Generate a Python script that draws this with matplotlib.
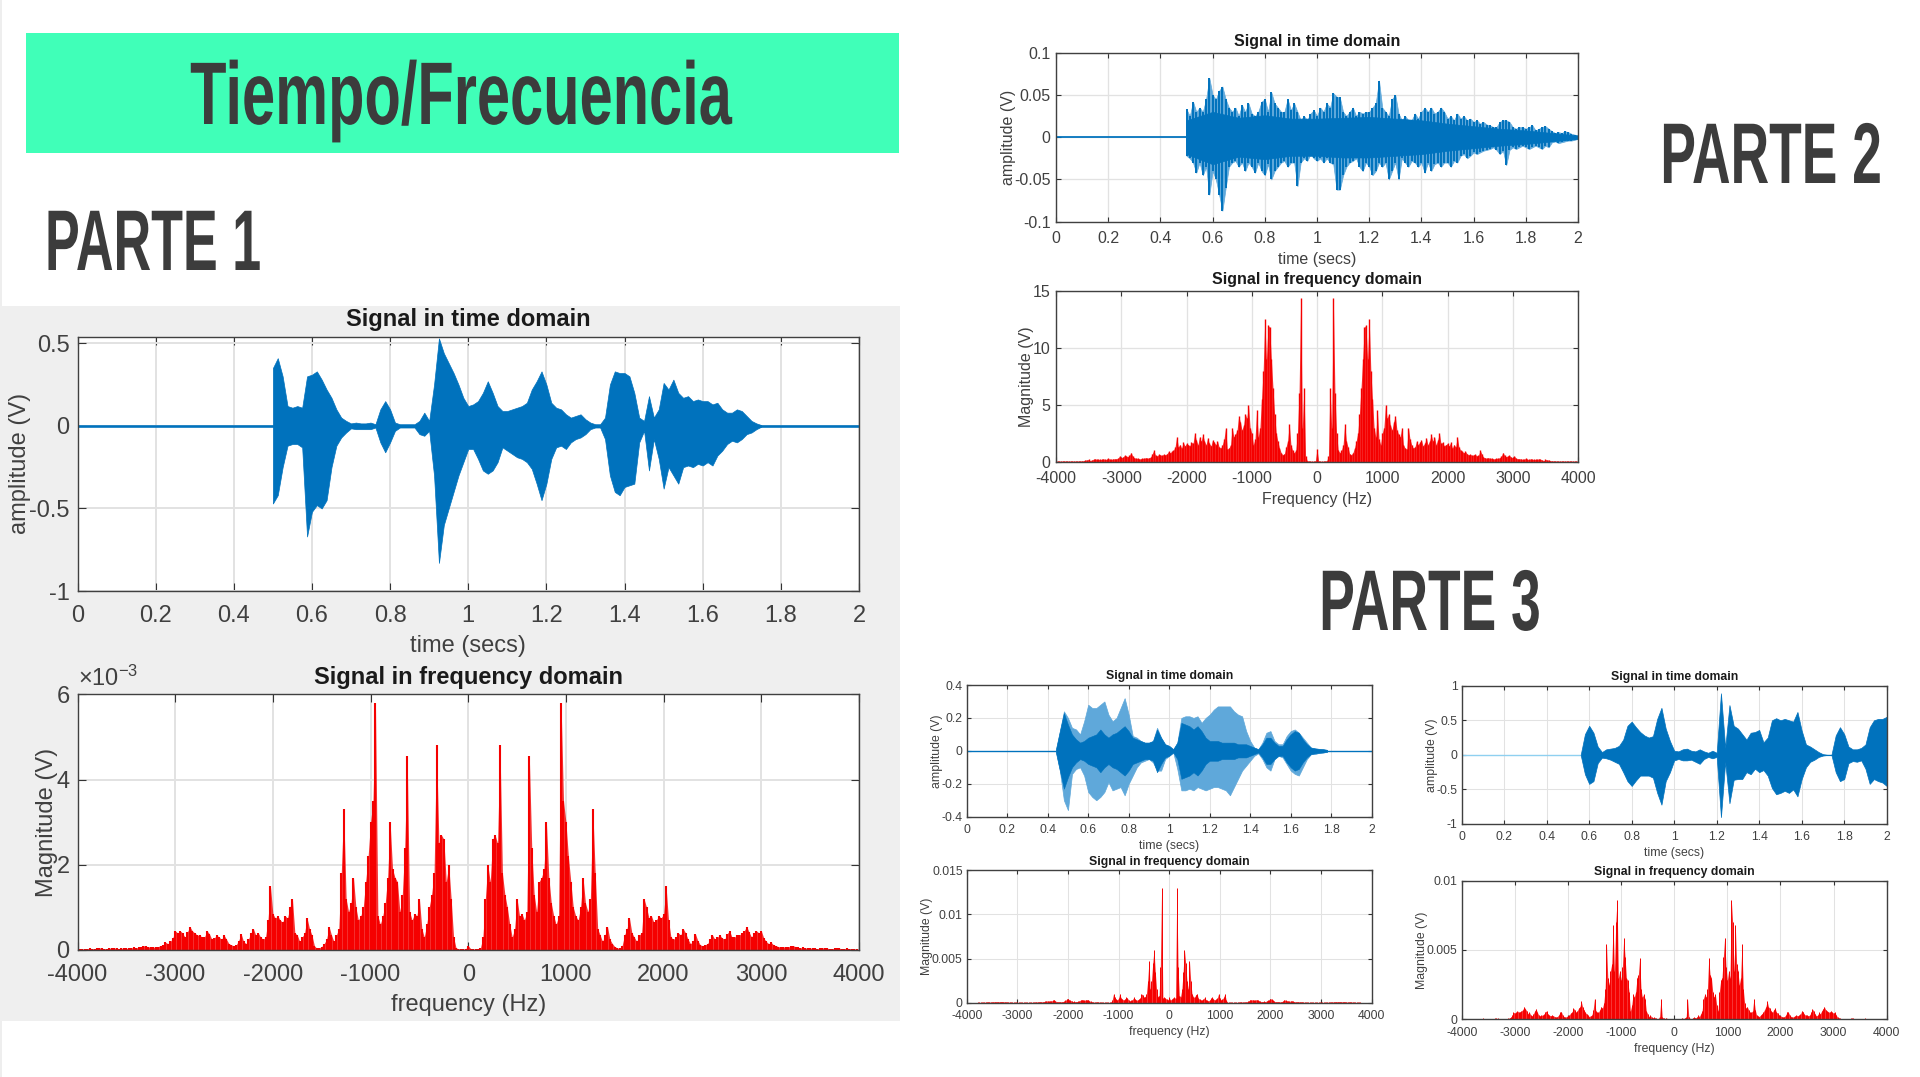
"""
Tiempo/Frecuencia slide: speech signals in the time and frequency domain
"""

import numpy as np
import matplotlib
matplotlib.use('Agg')
import matplotlib.pyplot as plt
from matplotlib.patches import Rectangle
from matplotlib.patheffects import AbstractPathEffect
from matplotlib.transforms import Affine2D

plt.rcParams['font.family'] = ['Liberation Sans', 'DejaVu Sans']
plt.rcParams['mathtext.default'] = 'regular'

# ============================================================================
# DATA: time envelopes (V)
# ============================================================================

# Parte 1, from 0.5 s, one value every 0.0125 s
p1_time_start = 0.5
p1_time_step = 0.0125
p1_upper = [
    .35, .41, .30, .12, .11, .12, .11, .30,
    .31, .33, .28, .22, .17, .10, .05, .03,
    .015, .02, .015, .015, .02, .01, .10, .15,
    .10, .02, .01, .01, .01, .01, .03, .08,
    .03, .25, .53, .44, .38, .32, .25, .17,
    .12, .13, .15, .20, .27, .20, .12, .09,
    .09, .10, .11, .12, .14, .22, .27, .33,
    .25, .14, .11, .10, .07, .05, .06, .07,
    .04, .02, .01, .01, .05, .25, .33, .32,
    .32, .30, .20, .05, .03, .18, .05, .10,
    .26, .22, .28, .20, .17, .18, .15, .16,
    .15, .15, .13, .14, .10, .08, .08, .10,
    .09, .06, .03, .015, .005,
]
p1_lower = [
    -.47, -.42, -.25, -.12, -.11, -.11, -.13, -.67,
    -.52, -.48, -.50, -.45, -.25, -.12, -.07, -.04,
    -.015, -.02, -.02, -.02, -.02, -.01, -.10, -.16,
    -.10, -.03, -.01, -.01, -.01, -.01, -.05, -.06,
    -.03, -.30, -.83, -.60, -.50, -.40, -.30, -.22,
    -.14, -.14, -.20, -.27, -.29, -.27, -.22, -.13,
    -.15, -.17, -.19, -.20, -.22, -.26, -.35, -.45,
    -.35, -.20, -.13, -.12, -.14, -.10, -.08, -.07,
    -.05, -.02, -.01, -.01, -.08, -.30, -.40, -.42,
    -.37, -.36, -.35, -.10, -.03, -.27, -.08, -.20,
    -.38, -.25, -.30, -.35, -.25, -.24, -.25, -.23,
    -.24, -.22, -.24, -.18, -.15, -.11, -.09, -.10,
    -.08, -.05, -.04, -.02, -.005,
]

# Parte 2, from 0.5 s, one value every 0.0125 s
p2_time_start = 0.5
p2_time_step = 0.0125
p2_upper = [
    .033, .025, .042, .03, .035, .03, .045, .07, .05, .045,
    .055, .06, .045, .035, .03, .035, .025, .038, .03, .04,
    .028, .025, .03, .042, .045, .03, .053, .04, .035, .03,
    .03, .045, .032, .04, .03, .02, .025, .02, .028, .032,
    .025, .035, .03, .04, .035, .052, .048, .047, .03, .025,
    .03, .035, .025, .03, .028, .03, .03, .035, .04, .067,
    .035, .03, .025, .045, .05, .028, .02, .025, .02, .02,
    .028, .022, .03, .035, .03, .035, .028, .03, .035, .03,
    .022, .025, .02, .028, .022, .025, .02, .022, .018, .02,
    .016, .018, .015, .014, .012, .012, .018, .02, .02, .018,
    .012, .01, .012, .012, .01, .012, .014, .008, .01, .012,
    .013, .01, .007, .005, .006, .005, .007, .006, .004, .003,
    .002,
]
p2_lower = [
    -.022, -.025, -.03, -.042, -.03, -.045, -.035, -.068, -.04, -.05,
    -.068, -.087, -.06, -.035, -.03, -.028, -.035, -.03, -.04, -.03,
    -.035, -.042, -.03, -.04, -.045, -.032, -.05, -.04, -.035, -.03,
    -.028, -.035, -.03, -.03, -.058, -.03, -.025, -.028, -.02, -.025,
    -.028, -.025, -.03, -.025, -.03, -.032, -.062, -.062, -.045, -.035,
    -.03, -.028, -.025, -.035, -.04, -.03, -.035, -.045, -.04, -.03,
    -.035, -.03, -.05, -.04, -.03, -.05, -.025, -.03, -.035, -.028,
    -.03, -.035, -.03, -.042, -.03, -.04, -.032, -.03, -.035, -.03,
    -.03, -.035, -.028, -.03, -.022, -.02, -.025, -.022, -.018, -.02,
    -.018, -.016, -.015, -.014, -.012, -.015, -.02, -.016, -.033, -.015,
    -.012, -.014, -.012, -.01, -.012, -.014, -.012, -.01, -.012, -.014,
    -.01, -.012, -.006, -.005, -.007, -.006, -.005, -.004, -.004, -.003,
    -.002,
]
# solid middle of the Parte 2 signal, one value every 0.1 s from 0.5 s
p2_core_step = 0.1
p2_core_upper = [.02, .03, .023, .026, .022, .022, .023, .024, .022, .02, .016, .013, .01, .008, .005, .002]
p2_core_lower = [-.02, -.032, -.023, -.026, -.022, -.022, -.024, -.024, -.022, -.02, -.016, -.013, -.01, -.008, -.005, -.002]

# Parte 3 left, from 0.44 s, one value every 0.02 s, with a darker core
p3a_time_start = 0.44
p3a_time_step = 0.02
p3a_upper = [
    .005, .12, .24, .20, .14, .13, .10, .18, .28, .26,
    .26, .28, .30, .22, .18, .20, .26, .32, .22, .09,
    .08, .06, .05, .05, .06, .14, .08, .04, .03, .01,
    .05, .20, .21, .21, .20, .21, .17, .20, .22, .25,
    .27, .27, .27, .27, .24, .22, .21, .12, .06, .02,
    .01, .05, .11, .12, .06, .04, .04, .09, .12, .13,
    .11, .08, .05, .02, .015, .012, .01, .006,
]
p3a_lower = [
    -.005, -.12, -.30, -.36, -.14, -.11, -.10, -.15, -.25, -.28,
    -.30, -.28, -.25, -.19, -.24, -.23, -.22, -.27, -.20, -.15,
    -.10, -.07, -.06, -.05, -.07, -.12, -.12, -.05, -.03, -.01,
    -.11, -.24, -.24, -.23, -.24, -.22, -.23, -.24, -.23, -.22,
    -.22, -.23, -.24, -.27, -.22, -.17, -.12, -.09, -.06, -.03,
    -.015, -.05, -.10, -.12, -.05, -.03, -.04, -.08, -.12, -.14,
    -.15, -.10, -.05, -.02, -.02, -.012, -.01, -.006,
]
p3a_core = [
    .005, .12, .23, .16, .10, .07, .05, .06, .08, .09,
    .10, .13, .10, .08, .10, .11, .13, .15, .12, .08,
    .07, .06, .05, .05, .06, .13, .08, .04, .03, .01,
    .05, .17, .16, .15, .13, .15, .12, .08, .06, .06,
    .06, .05, .05, .05, .05, .04, .04, .04, .03, .02,
    .01, .04, .08, .08, .05, .03, .03, .07, .10, .12,
    .11, .07, .04, .02, .015, .012, .01, .006,
]

# Parte 3 right, from 0.56 s, one value every 0.02 s
p3b_time_start = 0.56
p3b_time_step = 0.02
p3b_upper = [
    .002, .30, .42, .32, .12, .04, .08, .09, .10, .13,
    .22, .42, .48, .40, .33, .28, .25, .27, .52, .68,
    .38, .20, .06, .05, .08, .09, .06, .05, .08, .05,
    .03, .06, .03, .89, .10, .72, .42, .38, .30, .22,
    .32, .33, .36, .18, .25, .50, .53, .50, .52, .50,
    .48, .62, .35, .15, .12, .08, .04, .01, .002, .002,
    .28, .40, .30, .12, .08, .08, .10, .15, .40, .50,
    .52, .52, .55,
]
p3b_lower = [
    -.002, -.28, -.42, -.38, -.12, -.04, -.05, -.07, -.10, -.13,
    -.25, -.38, -.45, -.37, -.30, -.30, -.30, -.33, -.55, -.72,
    -.38, -.25, -.08, -.06, -.08, -.08, -.07, -.10, -.13, -.06,
    -.03, -.05, -.03, -.90, -.10, -.70, -.36, -.35, -.35, -.25,
    -.28, -.20, -.25, -.22, -.30, -.48, -.57, -.55, -.52, -.55,
    -.50, -.60, -.35, -.18, -.10, -.07, -.03, -.01, -.002, -.002,
    -.25, -.38, -.35, -.12, -.09, -.10, -.08, -.20, -.42, -.35,
    -.38, -.40, -.45,
]

# ============================================================================
# DATA: one-sided spectra, one value every 25 Hz from 0 to 4000 Hz
# ============================================================================

freq_step = 25

# x 1e-3 V
p1_spectrum = [
    .10, .03, .02, .02, .03, .05, .30, 1.2, 2.0, 1.6,
    2.6, 2.7, 2.5, 4.8, 1.8, 1.3, 1.0, .6, .3, .5,
    1.2, .8, .85, .7, .9, 4.55, 2.4, 1.3, .9, 1.6,
    1.7, 1.9, 3.0, 1.7, 1.1, .8, .6, .8, 5.8, 3.5,
    3.0, 2.2, 1.6, 1.0, .8, .7, 1.0, 1.7, 1.1, .9,
    1.2, 3.3, 1.8, .5, .35, .2, .35, .55, .25, .15,
    .08, .05, .04, .1, .35, .5, .75, .4, .3, .2,
    .35, .4, 1.2, 1.0, .75, .8, .65, .7, .8, .75,
    .85, 1.5, .7, .3, .25, .3, .4, .35, .5, .4,
    .25, .15, .2, .38, .22, .12, .1, .12, .15, .25,
    .35, .25, .3, .35, .28, .25, .38, .45, .3, .3,
    .35, .35, .4, .45, .55, .42, .3, .4, .45, .4,
    .45, .28, .2, .15, .18, .12, .1, .08, .06, .07,
    .08, .07, .09, .1, .08, .06, .05, .06, .05, .04,
    .04, .05, .04, .03, .04, .05, .05, .04, .03, .03,
    .04, .05, .04, .03, .03, .04, .03, .03, .02, .02,
    .01,
]

# V
p2_spectrum = [
    1.1, .05, .03, .03, .04, .05, .1, .5, 6.5, 3.0,
    14.4, 6.0, 2.5, 1.0, .8, 1.0, 1.5, 3.3, 1.8, 1.3,
    .7, .6, .8, 1.2, 1.8, 2.5, 4.2, 6.5, 9.0, 11.8,
    12.0, 9.0, 12.5, 8.0, 5.5, 3.0, 2.2, 4.5, 2.0, 1.5,
    2.5, 3.0, 5.0, 3.8, 4.2, 3.2, 2.8, 3.5, 4.0, 2.8,
    2.4, 2.2, 3.0, 1.5, 1.2, 1.1, 3.0, 2.0, 1.5, 1.2,
    1.3, 1.8, 1.5, 1.7, 1.9, 1.4, 1.6, 2.1, 1.5, 1.8,
    2.4, 1.8, 2.2, 1.5, 1.9, 2.5, 1.6, 1.7, 1.4, 1.5,
    1.6, 1.4, 1.7, 1.2, 1.5, 1.3, 2.2, 1.3, 1.0, .9,
    .8, .9, .7, .6, .65, .55, .6, .65, .5, .55,
    1.0, .7, .4, .35, .3, .35, .3, .3, .25, .25,
    .3, .3, .35, .5, .8, .55, .45, .5, .55, .4,
    .35, .5, .3, .25, .25, .25, .2, .2, .3, .2,
    .2, .25, .2, .2, .2, .2, .25, .2, .15, .1,
    .2, .15, .15, .08, .08, .06, .06, .05, .05, .05,
    .05, .05, .05, .05, .05, .05, .05, .04, .04, .04,
    .03,
]

# x 1e-3 V
p3a_spectrum = [
    .6, .3, .4, .5, .6, .5, 13.0, 4.0, .8, .7,
    1.5, 3.5, 6.0, 4.5, 2.5, 1.5, 4.7, 2.5, 1.0, .7,
    .6, .9, 1.0, .5, .4, .3, .3, .4, .6, .35,
    .25, .2, .3, .5, .6, .4, .3, .4, .5, 1.0,
    .5, .3, .4, .6, 1.0, .3, .05, .03, .03, .03,
    .03, .03, .03, .03, .04, .05, .08, .1, .06, .05,
    .08, .1, .15, .2, .35, .3, .35, .25, .3, .35,
    .3, .2, .15, .12, .12, .15, .12, .2, .25, .3,
    .45, .4, .25, .15, .12, .1, .12, .1, .1, .12,
    .2, .35, .25, .2, .2, .15, .2, .2, .15, .12,
    .1, .1, .12, .1, .08, .1, .05, .05, .04, .04,
    .03, .03, .03, .03, .03, .03, .03, .03, .03, .03,
    .03, .03, .03, .03, .04, .05, .06, .06, .08, .08,
    .1, .1, .12, .12, .1, .12, .1, .1, .12, .1,
    .08, .06, .08, .1, .08, .06, .05, .04, .03, .03,
    .03, .03, .02, .02, .02, .02, .02, .02, .02, .02,
    .02,
]

# x 1e-3 V
p3b_spectrum = [
    .02, .02, .02, .02, .02, .05, .1, .05, .1, .15,
    1.5, .2, .05, .03, .1, .15, .1, .15, .3, .2,
    .4, .6, 1.5, 1.8, 1.6, 2.2, 4.4, 3.2, 3.0, 2.0,
    1.6, 1.8, 1.0, .6, 2.0, 2.8, 3.0, 4.5, 5.9, 3.8,
    2.8, 3.5, 3.0, 8.6, 7.0, 3.5, 6.8, 4.0, 3.5, 2.5,
    3.0, 5.4, 2.2, 1.2, .8, .9, .7, .5, .5, .6,
    1.5, .7, .3, .25, .2, .3, .4, .5, .7, .9,
    1.3, .9, .8, .6, .5, .7, .8, .5, .45, .3,
    .25, .2, .15, .2, .3, .55, .5, .3, .2, .15,
    .2, .25, .3, .25, .3, .35, .6, .55, .35, .3,
    .3, .25, .3, .5, .75, .6, .4, .25, .3, .5,
    .4, .6, .75, .9, .7, .6, .55, .5, .6, .5,
    .45, .5, .3, .15, .1, .06, .04, .03, .03, .04,
    .04, .05, .05, .06, .07, .06, .05, .04, .05, .04,
    .05, .05, .04, .05, .06, .05, .05, .04, .04, .03,
    .03, .04, .03, .03, .03, .03, .02, .02, .02, .02,
    .02,
]

# ============================================================================
# DATA: tick labels and text
# ============================================================================

time_ticks = [0, 0.2, 0.4, 0.6, 0.8, 1, 1.2, 1.4, 1.6, 1.8, 2]
time_tick_labels = ['0', '0.2', '0.4', '0.6', '0.8', '1', '1.2', '1.4', '1.6', '1.8', '2']
freq_ticks = [-4000, -3000, -2000, -1000, 0, 1000, 2000, 3000, 4000]

title_time = 'Signal in time domain'
title_freq = 'Signal in frequency domain'

# ============================================================================
# FIGURE
# ============================================================================

W, H = 1920, 1077
BLUE = '#0072bd'
LIGHT_BLUE = '#5fa8da'
RED = '#f50000'
TEXT = '#404040'

fig = plt.figure(figsize=(W / 100, H / 100), dpi=100, facecolor='white')


class Squeeze(AbstractPathEffect):
    # narrows a text around a pixel column, no condensed font is installed
    def __init__(self, factor, anchor):
        super().__init__()
        self.factor = factor
        self.anchor = anchor

    def draw_path(self, renderer, gc, tpath, affine, rgbFace=None):
        squeeze = Affine2D().translate(-self.anchor, 0).scale(self.factor, 1).translate(self.anchor, 0)
        renderer.draw_path(gc, tpath, affine + squeeze, rgbFace)


def add_box(x0, y0, x1, y1, color):
    fig.add_artist(Rectangle((x0 / W, 1 - y1 / H), (x1 - x0) / W, (y1 - y0) / H,
                             transform=fig.transFigure, facecolor=color,
                             edgecolor='none', zorder=-5))


def add_heading(x, y, label, size, factor, ha):
    fig.text(x / W, 1 - y / H, label, fontweight='bold', fontsize=size, color='#3c3c3c',
             ha=ha, va='baseline', path_effects=[Squeeze(factor, x)])


def make_axes(x0, y0, x1, y1, size):
    ax = fig.add_axes([x0 / W, 1 - y1 / H, (x1 - x0) / W, (y1 - y0) / H])
    ax.set_facecolor('white')
    ax.grid(True, color='#e2e2e2', linewidth=size / 12)
    ax.set_axisbelow(True)
    ax.tick_params(direction='in', top=True, right=True, length=size / 3,
                   width=0.8, color='#333333', labelcolor=TEXT, labelsize=size)
    ax.tick_params(axis='x', pad=size * 0.6)
    ax.tick_params(axis='y', pad=size / 3)
    for spine in ax.spines.values():
        spine.set_color('#404040')
        spine.set_linewidth(1.0)
    return ax


def time_panel(box, size, start, step, upper, lower, ylim, yticks, ylabels,
               baseline=BLUE, fill=BLUE):
    ax = make_axes(*box, size)
    t = start + step * np.arange(len(upper))
    ax.axhline(0, color=baseline, linewidth=size / 9, zorder=0.9)
    ax.fill_between(t, lower, upper, color=fill, linewidth=0.5, zorder=1)
    ax.set_xlim(0, 2)
    ax.set_ylim(*ylim)
    ax.set_xticks(time_ticks, time_tick_labels)
    ax.set_yticks(yticks, ylabels)
    ax.set_xlabel('time (secs)', fontsize=size, color=TEXT, labelpad=size / 3)
    ax.set_ylabel('amplitude (V)', fontsize=size, color=TEXT, labelpad=-1)
    ax.set_title(title_time, fontsize=size, fontweight='bold', color='#1a1a1a', pad=size * 0.45)
    return ax


def freq_panel(box, size, spectrum, ylim, yticks, ylabels, spike_width,
               xlabel='frequency (Hz)'):
    ax = make_axes(*box, size)
    f_half = freq_step * np.arange(len(spectrum))
    f = np.concatenate([-f_half[:0:-1], f_half])
    m = np.concatenate([spectrum[:0:-1], spectrum])
    ax.fill_between(f, 0, m, color=RED, alpha=0.8, linewidth=0, zorder=1)
    ax.vlines(f, 0, m, color=RED, linewidth=spike_width, zorder=1.5)
    ax.set_xlim(-4000, 4000)
    ax.set_ylim(*ylim)
    ax.set_xticks(freq_ticks, [str(v) for v in freq_ticks])
    ax.set_yticks(yticks, ylabels)
    ax.set_xlabel(xlabel, fontsize=size, color=TEXT, labelpad=size / 3)
    ax.set_ylabel('Magnitude (V)', fontsize=size, color=TEXT, labelpad=-1)
    ax.set_title(title_freq, fontsize=size, fontweight='bold', color='#1a1a1a', pad=size * 0.45)
    return ax


# backgrounds
add_box(0, 0, 2, H, '#eeeeee')
add_box(26, 33, 899, 153, '#40ffb8')
add_box(0, 306, 900, 1021, '#efefef')

# headings
add_heading(461, 124, 'Tiempo/Frecuencia', 64, 0.67, 'center')
add_heading(45, 270, 'PARTE 1', 62, 0.605, 'left')
add_heading(1882, 183, 'PARTE 2', 62, 0.62, 'right')
add_heading(1430, 630, 'PARTE 3', 62, 0.62, 'center')

# ============================================================================
# PARTE 1
# ============================================================================

time_panel((77.5, 336.7, 859, 591), 17, p1_time_start, p1_time_step, p1_upper, p1_lower,
           (-1, 0.54), [-1, -0.5, 0, 0.5], ['-1', '-0.5', '0', '0.5'])
ax = freq_panel((77.5, 694.3, 859, 950), 17, p1_spectrum, (0, 6),
                [0, 2, 4, 6], ['0', '2', '4', '6'], 1.5)
ax.text(0, 1.012, r'$\times10^{-3}$', transform=ax.transAxes, fontsize=17, color=TEXT,
        ha='left', va='bottom')

# ============================================================================
# PARTE 2
# ============================================================================

ax = time_panel((1056, 52.7, 1578, 221.7), 11.5, p2_time_start, p2_time_step, p2_upper, p2_lower,
                (-0.1, 0.1), [-0.1, -0.05, 0, 0.05, 0.1], ['-0.1', '-0.05', '0', '0.05', '0.1'],
                fill='#5fa8da')
t_spikes = p2_time_start + p2_time_step * np.arange(len(p2_upper))
ax.vlines(t_spikes, p2_lower, p2_upper, color=BLUE, linewidth=1.4, zorder=1.5)
t_core = p2_time_start + p2_core_step * np.arange(len(p2_core_upper))
ax.fill_between(t_core, p2_core_lower, p2_core_upper, color=BLUE, linewidth=0.5, zorder=1.6)
freq_panel((1056, 291, 1578, 461.7), 11.5, p2_spectrum, (0, 15),
           [0, 5, 10, 15], ['0', '5', '10', '15'], 1.0, xlabel='Frequency (Hz)')

# ============================================================================
# PARTE 3
# ============================================================================

ax = time_panel((966.7, 685, 1371.7, 816.7), 8.8, p3a_time_start, p3a_time_step,
                p3a_upper, p3a_lower, (-0.4, 0.4),
                [-0.4, -0.2, 0, 0.2, 0.4], ['-0.4', '-0.2', '0', '0.2', '0.4'],
                fill=LIGHT_BLUE)
t_core = p3a_time_start + p3a_time_step * np.arange(len(p3a_core))
ax.fill_between(t_core, -np.array(p3a_core), p3a_core, color=BLUE, linewidth=0.4, zorder=1.5)
freq_panel((966.7, 870.3, 1371.7, 1002.7), 8.8, p3a_spectrum, (0, 15),
           [0, 5, 10, 15], ['0', '0.005', '0.01', '0.015'], 0.7)

time_panel((1461.7, 685.7, 1886.7, 824), 8.8, p3b_time_start, p3b_time_step,
           p3b_upper, p3b_lower, (-1, 1),
           [-1, -0.5, 0, 0.5, 1], ['-1', '-0.5', '0', '0.5', '1'], baseline='#8fd0f0')
freq_panel((1461.7, 880.7, 1886.7, 1019.3), 8.8, p3b_spectrum, (0, 10),
           [0, 5, 10], ['0', '0.005', '0.01'], 0.7)

fig.savefig('out.png', dpi=100)
